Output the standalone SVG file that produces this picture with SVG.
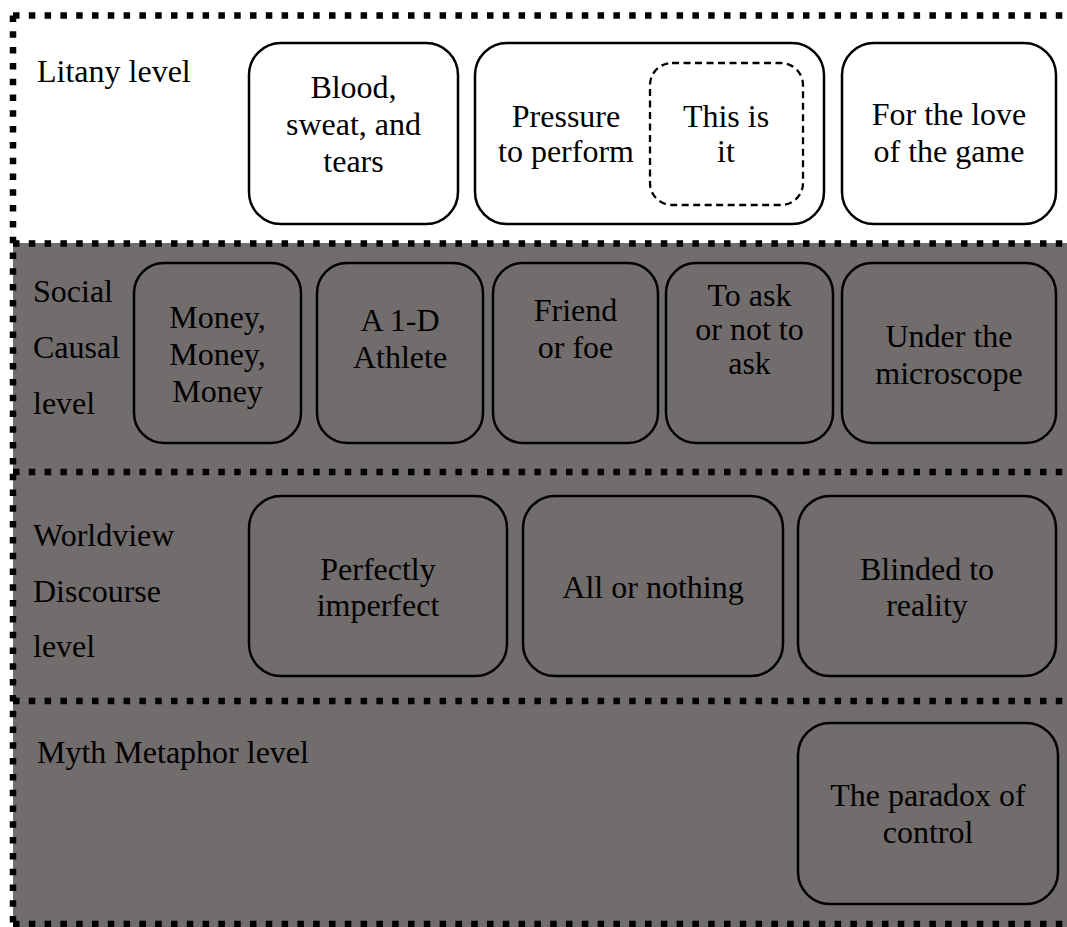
<svg xmlns="http://www.w3.org/2000/svg" width="1067" height="927" viewBox="0 0 1067 927">
<style>
text{font-family:"Liberation Serif","Times New Roman",serif;font-size:32px;fill:#000}
.c{text-anchor:middle}
.box{fill:none;stroke:#000;stroke-width:2.5}
.wbox{fill:#fff;stroke:#000;stroke-width:2.5}
.dash{fill:none;stroke:#000;stroke-width:2.3;stroke-dasharray:7 4.5}
.dot{fill:none;stroke:#000;stroke-width:6.5;stroke-dasharray:6.5 9.3}
</style>
<rect x="0" y="0" width="1067" height="927" fill="#fff"/>
<rect x="13" y="243" width="1054" height="684" fill="#716d6c"/>
<g id="borders">
<line class="dot" x1="13" y1="15.5" x2="1067" y2="15.5"/>
<line class="dot" x1="13" y1="15.5" x2="13" y2="927"/>
<line class="dot" x1="13" y1="243.5" x2="1067" y2="243.5"/>
<line class="dot" x1="13" y1="472" x2="1067" y2="472"/>
<line class="dot" x1="13" y1="701" x2="1067" y2="701"/>
<line class="dot" x1="13" y1="924" x2="1067" y2="924"/>
</g>
<g id="labels">
<text x="37" y="82">Litany level</text>
<text x="33" y="302">Social</text>
<text x="33" y="358">Causal</text>
<text x="33" y="414">level</text>
<text x="33" y="546">Worldview</text>
<text x="33" y="602">Discourse</text>
<text x="33" y="657">level</text>
<text x="37" y="763">Myth Metaphor level</text>
</g>
<g id="n-blood">
<rect class="wbox" x="249" y="43" width="209" height="181" rx="32"/>
<text class="c" x="353.5" y="98">Blood,</text>
<text class="c" x="353.5" y="135">sweat, and</text>
<text class="c" x="353.5" y="172">tears</text>
</g>
<g id="n-pressure">
<rect class="wbox" x="475" y="43" width="349" height="181" rx="32"/>
<text class="c" x="566" y="127">Pressure</text>
<text class="c" x="566" y="162">to perform</text>
</g>
<g id="n-thisis">
<rect class="dash" x="650" y="63" width="153" height="142" rx="22"/>
<text class="c" x="726" y="127">This is</text>
<text class="c" x="726" y="162">it</text>
</g>
<g id="n-love">
<rect class="wbox" x="842" y="43" width="214" height="181" rx="32"/>
<text class="c" x="949" y="125">For the love</text>
<text class="c" x="949" y="162">of the game</text>
</g>
<g id="n-money">
<rect class="box" x="134" y="263" width="167" height="180" rx="30"/>
<text class="c" x="217.5" y="328">Money,</text>
<text class="c" x="217.5" y="365">Money,</text>
<text class="c" x="217.5" y="402">Money</text>
</g>
<g id="n-athlete">
<rect class="box" x="317" y="263" width="166" height="180" rx="30"/>
<text class="c" x="400" y="331">A 1-D</text>
<text class="c" x="400" y="368">Athlete</text>
</g>
<g id="n-friend">
<rect class="box" x="493" y="263" width="165" height="180" rx="30"/>
<text class="c" x="575.5" y="321">Friend</text>
<text class="c" x="575.5" y="358">or foe</text>
</g>
<g id="n-ask">
<rect class="box" x="666" y="263" width="167" height="180" rx="30"/>
<text class="c" x="749.5" y="306">To ask</text>
<text class="c" x="749.5" y="340">or not to</text>
<text class="c" x="749.5" y="374">ask</text>
</g>
<g id="n-microscope">
<rect class="box" x="842" y="263" width="214" height="180" rx="30"/>
<text class="c" x="949" y="347">Under the</text>
<text class="c" x="949" y="384">microscope</text>
</g>
<g id="n-perfect">
<rect class="box" x="249" y="496" width="258" height="180" rx="32"/>
<text class="c" x="378" y="580">Perfectly</text>
<text class="c" x="378" y="616">imperfect</text>
</g>
<g id="n-all">
<rect class="box" x="523" y="496" width="260" height="180" rx="32"/>
<text class="c" x="653" y="598">All or nothing</text>
</g>
<g id="n-blinded">
<rect class="box" x="798" y="496" width="258" height="180" rx="32"/>
<text class="c" x="927" y="580">Blinded to</text>
<text class="c" x="927" y="616">reality</text>
</g>
<g id="n-paradox">
<rect class="box" x="798" y="723" width="260" height="181" rx="32"/>
<text class="c" x="928" y="806">The paradox of</text>
<text class="c" x="928" y="843">control</text>
</g>
<g id="connectors"></g>
</svg>
